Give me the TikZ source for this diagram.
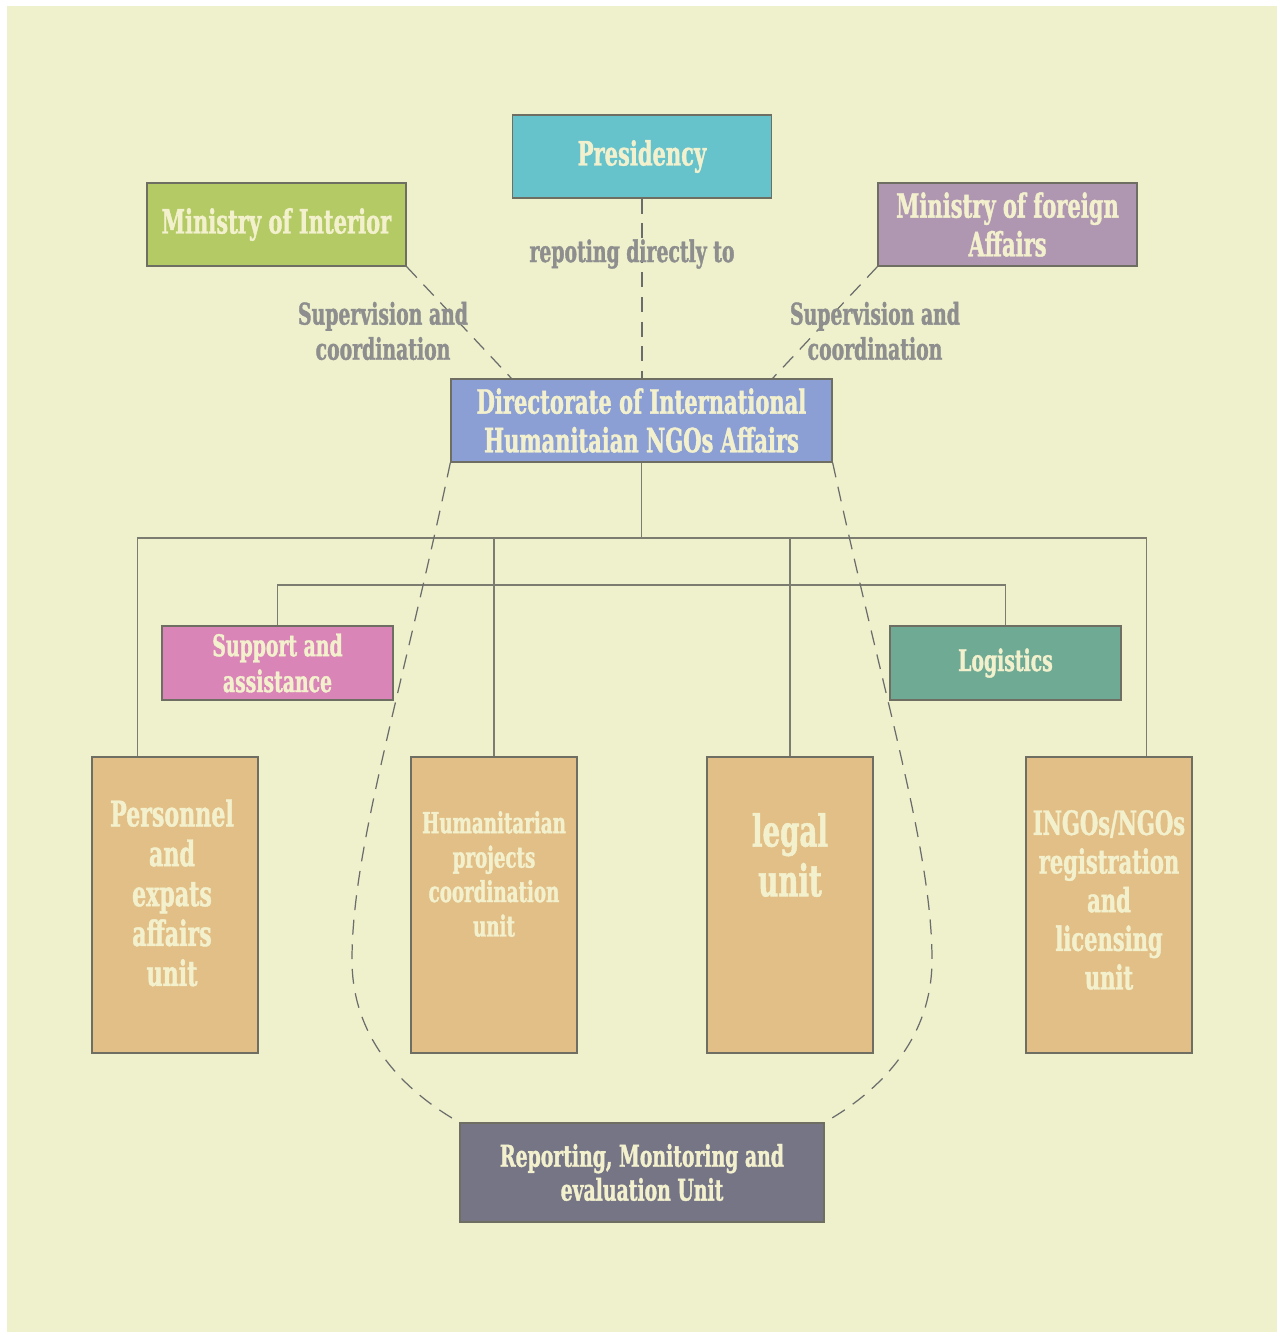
\documentclass[tikz,border=0pt]{standalone}
\usepackage{fontspec}
\setmainfont{DejaVu Serif}[FakeStretch=0.63, FakeBold=1.2]
\usepackage{tikz}
\definecolor{paper}{HTML}{EEF1CB}
\definecolor{presfill}{HTML}{66C3CC}
\definecolor{interiorfill}{HTML}{B4CB65}
\definecolor{foreignfill}{HTML}{B097B1}
\definecolor{dirfill}{HTML}{8B9FD4}
\definecolor{supportfill}{HTML}{D985B7}
\definecolor{logisticsfill}{HTML}{6FAA95}
\definecolor{unitfill}{HTML}{E2BF86}
\definecolor{reportfill}{HTML}{767585}
\definecolor{cream}{HTML}{F3F1CD}
\definecolor{labelgray}{HTML}{8E8E8E}
\definecolor{linegray}{HTML}{7C7D70}
\definecolor{dashgray}{HTML}{6C6C6C}
\definecolor{edgegray}{HTML}{6E6E62}
\tikzset{
  orgbox/.style   = {shape=rectangle, draw=edgegray, line width=0.8pt,
                     align=center, text=cream,
                     font=\bfseries\fontsize{19}{22}\selectfont},
  ministry/.style = {orgbox, minimum width=5.18cm, minimum height=1.66cm},
  office/.style   = {orgbox, minimum width=4.62cm, minimum height=1.48cm,
                     font=\bfseries\fontsize{17}{20.4}\selectfont},
  unitbox/.style  = {orgbox, fill=unitfill, minimum width=3.32cm, minimum height=5.92cm},
  unittext/.style = {align=center, text=cream, inner sep=0pt},
  note/.style     = {align=center, text=labelgray,
                     font=\bfseries\fontsize{17}{20}\selectfont},
  link/.style     = {draw=linegray, line width=0.7pt},
  dashlink/.style = {draw=dashgray, line width=0.7pt, dash pattern=on 8.5pt off 5.5pt}
}

\begin{document}
\begin{tikzpicture}[x=0.02cm, y=-0.02cm]
  \fill[white] (0,0) rectangle (1285,1332);
  \fill[paper] (7,6) rectangle (1277,1332);
  \useasboundingbox (0,0) rectangle (1285,1332);

  % top level
  \node[ministry, fill=presfill] (presidency) at (642,156.5) {Presidency};
  \node[ministry, fill=interiorfill] (interior) at (276.5,224.5) {Ministry of Interior};
  \node[ministry, fill=foreignfill] (foreign) at (1007.5,224.5) {Ministry of foreign\\Affairs};
  \node[orgbox, fill=dirfill, minimum width=7.62cm, minimum height=1.66cm]
    (directorate) at (641.5,420.5) {Directorate of International\\Humanitaian NGOs Affairs};

  \draw[dashlink] (presidency.south) -- (presidency.south |- directorate.north);
  \draw[dashlink] (interior.south east) -- ([xshift=1.22cm]directorate.north west);
  \draw[dashlink] (foreign.south west) -- ([xshift=-1.2cm]directorate.north east);

  \node[note] (direct-note) at (632,254) {repoting directly to};
  \node[note] (interior-note) at (383,331) {Supervision and\\coordination};
  \node[note] (foreign-note) at (875,331) {Supervision and\\coordination};

  % offices and units
  \node[office, fill=supportfill] (support) at (277.5,663) {Support and\\assistance};
  \node[office, fill=logisticsfill] (logistics) at (1005.5,663) {Logistics};

  \node[unitbox] (personnel) at (175,905) {};
  \node[unitbox] (humanitarian) at (494,905) {};
  \node[unitbox] (legal) at (790,905) {};
  \node[unitbox] (ingos) at (1109,905) {};

  \node[unittext, font=\bfseries\fontsize{20}{22.7}\selectfont]
    (personnel-text) at (172,893) {Personnel\\and\\expats\\affairs\\unit};
  \node[unittext, font=\bfseries\fontsize{16.5}{19.6}\selectfont]
    (humanitarian-text) at (494,874) {Humanitarian\\projects\\coordination\\unit};
  \node[unittext, font=\bfseries\fontsize{25}{28.3}\selectfont]
    (legal-text) at (790,855) {legal\\unit};
  \node[unittext, font=\bfseries\fontsize{19}{22}\selectfont]
    (ingos-text) at (1109,900) {INGOs/NGOs\\registration\\and\\licensing\\unit};

  \node[orgbox, fill=reportfill, minimum width=7.28cm, minimum height=1.98cm,
        font=\bfseries\fontsize{17}{19.3}\selectfont]
    (reporting) at (642,1172.5) {Reporting, Monitoring and\\evaluation Unit};

  % tree lines
  \coordinate (bus) at (641.5,538);
  \coordinate (subbus) at (641.5,585);
  \draw[link] (directorate.south) -- (bus);
  \draw[link] ([xshift=0.92cm]personnel.north west) |- (bus)
              -| ([xshift=-0.92cm]ingos.north east);
  \draw[link] (humanitarian.north) -- (humanitarian.north |- bus);
  \draw[link] (legal.north) -- (legal.north |- bus);
  \draw[link] (support.north) |- (subbus) -| (logistics.north);

  % monitoring loop
  \coordinate (bulge-left) at (352,960);
  \coordinate (bulge-right) at (932,960);
  \draw[dashlink] (directorate.south west) .. controls (400,700) and (352,850) .. (bulge-left)
                  .. controls (352,1050) and (420,1100) .. (reporting.north west);
  \draw[dashlink] (directorate.south east) .. controls (884,700) and (932,850) .. (bulge-right)
                  .. controls (932,1050) and (864,1100) .. (reporting.north east);
\end{tikzpicture}
\end{document}
